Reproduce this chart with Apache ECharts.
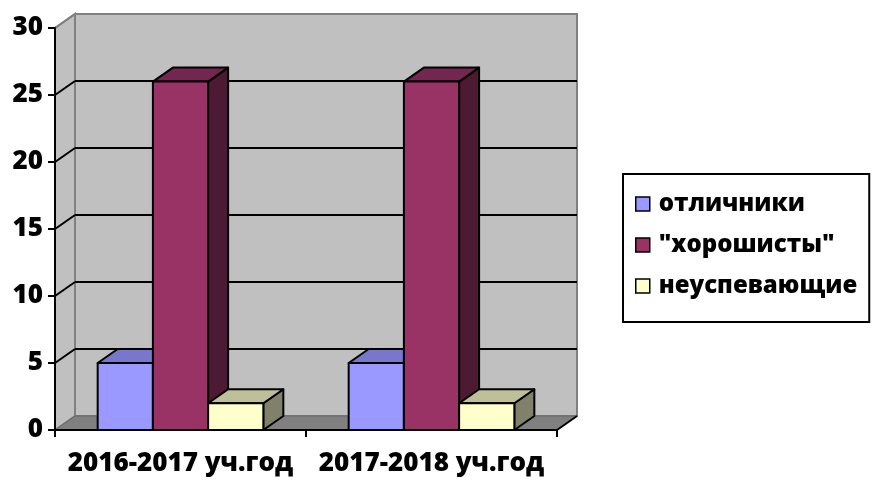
<!DOCTYPE html>
<html>
<head>
<meta charset="utf-8">
<script src="https://cdn.jsdelivr.net/npm/echarts@6/dist/echarts.min.js"></script>
<style>
  html, body { margin: 0; padding: 0; background: #fff; }
  #main { width: 873px; height: 481px; }
</style>
</head>
<body>
<div id="main"></div>
<script>
var categories = ['2016-2017 уч.год', '2017-2018 уч.год'];
var seriesNames = ['отличники', '"хорошисты"', 'неуспевающие'];
var otlichniki = [5, 5];
var khoroshisty = [26, 26];
var neuspevayushchie = [2, 2];
var yTicks = [0, 5, 10, 15, 20, 25, 30];

// front / top / side shades for each series
var faces = [
  { front: '#9999FF', top: '#7777CC', side: '#4D4D80' },
  { front: '#993366', top: '#732650', side: '#4D1A33' },
  { front: '#FFFFCC', top: '#BFBF99', side: '#80806B' }
];
var DX = 20, DY = -14;   // depth of the 3d look
var FONT = 'Open Sans';
var FS = 26;

function toPairs(vals) {
  return vals.map(function (v, i) { return [i, v]; });
}

// back wall, side wall, floor and the grid lines that sit on them
function renderWalls(params, api) {
  var cs = params.coordSys;
  var v = api.value(1);
  var y = api.coord([0, v])[1];
  var children = [];
  if (params.dataIndex === 0) {
    var x0 = cs.x, x1 = cs.x + cs.width, yt = cs.y, yb = cs.y + cs.height;
    children.push({
      type: 'polygon',
      shape: { points: [[x0 + DX, yt + DY], [x1 + DX, yt + DY], [x1 + DX, yb + DY], [x0 + DX, yb + DY]] },
      style: { fill: '#C0C0C0', stroke: '#808080', lineWidth: 2 }
    });
    children.push({
      type: 'polygon',
      shape: { points: [[x0, yt], [x0 + DX, yt + DY], [x0 + DX, yb + DY], [x0, yb]] },
      style: { fill: '#C0C0C0', stroke: '#808080', lineWidth: 2 }
    });
    children.push({
      type: 'polygon',
      shape: { points: [[x0, yb], [x1, yb], [x1 + DX, yb + DY], [x0 + DX, yb + DY]] },
      style: { fill: '#808080', stroke: '#666666', lineWidth: 1 }
    });
    children.push({
      type: 'line',
      shape: { x1: x1, y1: yb, x2: x1 + DX, y2: yb + DY },
      style: { stroke: '#000', lineWidth: 2 }
    });
  } else {
    var c = v === 30 ? '#808080' : '#000';
    children.push({
      type: 'line',
      shape: { x1: cs.x + DX, y1: y + DY, x2: cs.x + cs.width + DX, y2: y + DY },
      style: { stroke: c, lineWidth: 2 }
    });
    children.push({
      type: 'line',
      shape: { x1: cs.x, y1: y, x2: cs.x + DX, y2: y + DY },
      style: { stroke: c, lineWidth: 2 }
    });
  }
  return { type: 'group', children: children };
}

function makeBarRenderer(k) {
  return function (params, api) {
    var c = api.coord([api.value(0), api.value(1)]);
    var base = api.coord([api.value(0), 0]);
    var band = api.size([1, 0])[0];
    var w = band * 0.22;
    var x0 = c[0] + (k - 1.5) * w, x1 = x0 + w;
    var top = c[1], bot = base[1];
    var f = faces[k];
    var st = { stroke: '#000', lineWidth: 2, lineJoin: 'round' };
    return {
      type: 'group',
      children: [
        { type: 'polygon', shape: { points: [[x1, top], [x1 + DX, top + DY], [x1 + DX, bot + DY], [x1, bot]] },
          style: Object.assign({ fill: f.side }, st) },
        { type: 'polygon', shape: { points: [[x0, top], [x1, top], [x1 + DX, top + DY], [x0 + DX, top + DY]] },
          style: Object.assign({ fill: f.top }, st) },
        { type: 'rect', shape: { x: x0, y: top, width: w, height: bot - top },
          style: Object.assign({ fill: f.front }, st) }
      ]
    };
  };
}

var barData = [otlichniki, khoroshisty, neuspevayushchie];
var series = [{
  type: 'custom',
  name: 'walls',
  silent: true,
  renderItem: renderWalls,
  data: yTicks.map(function (v) { return [0, v]; }),
  z: 1
}];
barData.forEach(function (vals, k) {
  series.push({
    type: 'custom',
    name: seriesNames[k],
    silent: true,
    renderItem: makeBarRenderer(k),
    itemStyle: { color: faces[k].front },
    data: toPairs(vals),
    z: 2
  });
});

var chart = echarts.init(document.getElementById('main'));
chart.setOption({
  animation: false,
  backgroundColor: '#fff',
  grid: { left: 55, right: 316, top: 28, bottom: 51, containLabel: false },
  xAxis: {
    type: 'category',
    data: categories,
    z: 5,
    axisLine: { lineStyle: { color: '#000', width: 2 } },
    axisTick: { show: true, length: 7, lineStyle: { color: '#000', width: 2 } },
    axisLabel: { interval: 0, color: '#000', fontFamily: FONT, fontWeight: 800, fontSize: FS, margin: 21 },
    splitLine: { show: false }
  },
  yAxis: {
    type: 'value',
    min: 0, max: 30, interval: 5,
    z: 5,
    axisLine: { show: true, lineStyle: { color: '#000', width: 2 } },
    axisTick: { show: true, length: 7, lineStyle: { color: '#000', width: 2 } },
    axisLabel: { color: '#000', fontFamily: FONT, fontWeight: 800, fontSize: FS, margin: 12 },
    splitLine: { show: false }
  },
  legend: {
    data: seriesNames,
    orient: 'vertical',
    left: 623,
    top: 174,
    padding: [16, 12, 22, 12],
    itemGap: 13,
    itemWidth: 14,
    itemHeight: 14,
    icon: 'rect',
    borderColor: '#000',
    borderWidth: 2,
    itemStyle: { borderColor: '#000', borderWidth: 1.5 },
    textStyle: { color: '#000', fontFamily: FONT, fontWeight: 800, fontSize: 24, lineHeight: 28, padding: [0, 0, 0, 4] }
  },
  series: series
});
</script>
</body>
</html>
